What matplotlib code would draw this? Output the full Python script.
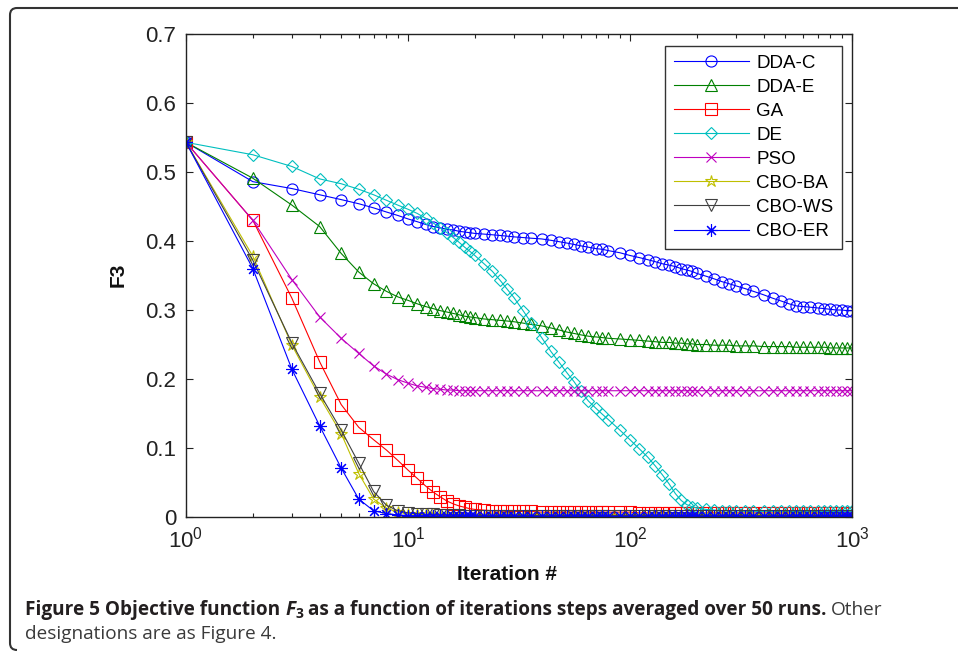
import matplotlib
matplotlib.use("Agg")
import matplotlib.pyplot as plt
from matplotlib.path import Path
from matplotlib.patches import PathPatch
from matplotlib.transforms import IdentityTransform

plt.rcParams["font.family"] = ["Liberation Sans", "DejaVu Sans"]
plt.rcParams["mathtext.fontset"] = "custom"
plt.rcParams["mathtext.rm"] = "Liberation Sans"

iters = [1, 2, 3, 4, 5, 6, 7, 8, 9, 10,
         11, 12, 13, 14, 15, 16, 17, 18, 19, 20,
         22, 24, 26, 28, 30, 33, 36, 40, 44, 48,
         52, 56, 60, 65, 70, 75, 80, 90, 100, 110,
         120, 130, 140, 150, 160, 170, 180, 190, 200, 220,
         240, 260, 280, 300, 330, 360, 400, 440, 480, 520,
         560, 600, 650, 700, 750, 800, 850, 900, 950, 1000]

dda_c = [0.543, 0.486, 0.476, 0.467, 0.460, 0.454, 0.448, 0.442, 0.437, 0.432,
         0.428, 0.424, 0.421, 0.419, 0.417, 0.416, 0.414, 0.413, 0.412, 0.411,
         0.410, 0.409, 0.408, 0.407, 0.406, 0.405, 0.404, 0.403, 0.401, 0.399,
         0.397, 0.395, 0.393, 0.391, 0.389, 0.388, 0.386, 0.383, 0.379, 0.376,
         0.373, 0.370, 0.367, 0.365, 0.363, 0.360, 0.358, 0.356, 0.353, 0.349,
         0.345, 0.341, 0.338, 0.335, 0.331, 0.327, 0.322, 0.317, 0.313, 0.309,
         0.306, 0.305, 0.304, 0.303, 0.302, 0.301, 0.300, 0.300, 0.299, 0.299]

dda_e = [0.543, 0.491, 0.452, 0.421, 0.382, 0.355, 0.338, 0.327, 0.319, 0.314,
         0.309, 0.305, 0.302, 0.299, 0.297, 0.295, 0.293, 0.291, 0.290, 0.289,
         0.287, 0.286, 0.285, 0.284, 0.283, 0.281, 0.279, 0.277, 0.274, 0.271,
         0.268, 0.266, 0.264, 0.262, 0.261, 0.260, 0.259, 0.258, 0.257, 0.256,
         0.255, 0.254, 0.253, 0.253, 0.252, 0.252, 0.251, 0.251, 0.250, 0.250,
         0.249, 0.249, 0.249, 0.248, 0.248, 0.248, 0.247, 0.247, 0.247, 0.247,
         0.246, 0.246, 0.246, 0.246, 0.246, 0.245, 0.245, 0.245, 0.245, 0.245]

ga = [0.543, 0.430, 0.317, 0.225, 0.163, 0.130, 0.112, 0.097, 0.082, 0.068,
      0.056, 0.045, 0.036, 0.029, 0.023, 0.019, 0.016, 0.014, 0.012, 0.011,
      0.010, 0.009, 0.009, 0.008, 0.008, 0.008, 0.008, 0.007, 0.007, 0.007,
      0.007, 0.007, 0.007, 0.007, 0.007, 0.007, 0.007, 0.007, 0.007, 0.006,
      0.006, 0.006, 0.006, 0.006, 0.006, 0.006, 0.006, 0.006, 0.006, 0.006,
      0.006, 0.006, 0.006, 0.006, 0.006, 0.006, 0.006, 0.006, 0.006, 0.006,
      0.006, 0.006, 0.006, 0.006, 0.006, 0.006, 0.006, 0.006, 0.006, 0.006]

de = [0.543, 0.525, 0.508, 0.490, 0.483, 0.475, 0.467, 0.459, 0.452, 0.446,
      0.440, 0.433, 0.426, 0.419, 0.412, 0.405, 0.398, 0.391, 0.385, 0.379,
      0.367, 0.356, 0.343, 0.330, 0.318, 0.299, 0.281, 0.260, 0.240, 0.224,
      0.209, 0.196, 0.182, 0.168, 0.158, 0.149, 0.141, 0.126, 0.112, 0.099,
      0.087, 0.074, 0.061, 0.048, 0.034, 0.024, 0.018, 0.015, 0.013, 0.011,
      0.010, 0.009, 0.009, 0.009, 0.008, 0.008, 0.008, 0.008, 0.008, 0.008,
      0.008, 0.008, 0.008, 0.008, 0.008, 0.008, 0.008, 0.008, 0.008, 0.008]

pso = [0.543, 0.430, 0.344, 0.290, 0.259, 0.237, 0.219, 0.207, 0.199, 0.194,
       0.190, 0.188, 0.186, 0.185, 0.184, 0.184, 0.183, 0.183, 0.183, 0.183,
       0.183, 0.183, 0.183, 0.183, 0.183, 0.183, 0.183, 0.183, 0.183, 0.183,
       0.183, 0.183, 0.183, 0.183, 0.183, 0.183, 0.183, 0.183, 0.183, 0.183,
       0.183, 0.183, 0.183, 0.183, 0.183, 0.183, 0.183, 0.183, 0.183, 0.183,
       0.183, 0.183, 0.183, 0.183, 0.183, 0.183, 0.183, 0.183, 0.183, 0.183,
       0.183, 0.183, 0.183, 0.183, 0.183, 0.183, 0.183, 0.183, 0.183, 0.183]

cbo_ba = [0.543, 0.378, 0.249, 0.174, 0.121, 0.063, 0.026, 0.013, 0.007, 0.005,
          0.004, 0.004, 0.003, 0.003, 0.003, 0.003, 0.002, 0.002, 0.002, 0.002,
          0.002, 0.002, 0.002, 0.002, 0.002, 0.002, 0.002, 0.002, 0.002, 0.002,
          0.002, 0.002, 0.002, 0.002, 0.002, 0.002, 0.002, 0.002, 0.002, 0.002,
          0.002, 0.002, 0.002, 0.002, 0.002, 0.002, 0.002, 0.002, 0.002, 0.002,
          0.002, 0.002, 0.002, 0.002, 0.002, 0.002, 0.002, 0.002, 0.002, 0.002,
          0.002, 0.002, 0.002, 0.002, 0.002, 0.002, 0.002, 0.002, 0.002, 0.002]

cbo_ws = [0.543, 0.372, 0.252, 0.179, 0.126, 0.078, 0.037, 0.017, 0.009, 0.006,
          0.005, 0.004, 0.004, 0.003, 0.003, 0.003, 0.003, 0.002, 0.002, 0.002,
          0.002, 0.002, 0.002, 0.002, 0.002, 0.002, 0.002, 0.002, 0.002, 0.002,
          0.002, 0.002, 0.002, 0.002, 0.002, 0.002, 0.002, 0.002, 0.002, 0.002,
          0.002, 0.002, 0.002, 0.002, 0.002, 0.002, 0.002, 0.002, 0.002, 0.002,
          0.002, 0.002, 0.002, 0.002, 0.002, 0.002, 0.002, 0.002, 0.002, 0.002,
          0.002, 0.002, 0.002, 0.002, 0.002, 0.002, 0.002, 0.002, 0.002, 0.002]

cbo_er = [0.543, 0.360, 0.214, 0.132, 0.071, 0.026, 0.009, 0.005, 0.003, 0.002,
          0.002, 0.002, 0.001, 0.001, 0.001, 0.001, 0.001, 0.001, 0.001, 0.001,
          0.001, 0.001, 0.001, 0.001, 0.001, 0.001, 0.001, 0.001, 0.001, 0.001,
          0.001, 0.001, 0.001, 0.001, 0.001, 0.001, 0.001, 0.001, 0.001, 0.001,
          0.001, 0.001, 0.001, 0.001, 0.001, 0.001, 0.001, 0.001, 0.001, 0.001,
          0.001, 0.001, 0.001, 0.001, 0.001, 0.001, 0.001, 0.001, 0.001, 0.001,
          0.001, 0.001, 0.001, 0.001, 0.001, 0.001, 0.001, 0.001, 0.001, 0.001]

labels = ["DDA-C", "DDA-E", "GA", "DE", "PSO", "CBO-BA", "CBO-WS", "CBO-ER"]
series = [dda_c, dda_e, ga, de, pso, cbo_ba, cbo_ws, cbo_er]

# matlab-ish line specs
styles = [
    dict(color=(0, 0, 1), marker="o", ms=8),
    dict(color=(0, 0.5, 0), marker="^", ms=8),
    dict(color=(1, 0, 0), marker="s", ms=8),
    dict(color=(0, 0.75, 0.75), marker="D", ms=6.5),
    dict(color=(0.75, 0, 0.75), marker="x", ms=7),
    dict(color=(0.75, 0.75, 0), marker="*", ms=9),
    dict(color=(0.25, 0.25, 0.25), marker="v", ms=8),
    dict(color=(0, 0, 1), marker=(8, 2, 0), ms=9),
]

W, H = 958, 653
fig = plt.figure(figsize=(W / 100, H / 100), dpi=100)
ax = fig.add_axes([186 / W, 1 - 517 / H, (852 - 186) / W, (517 - 34) / H])

for vals, lab, st in zip(series, labels, styles):
    ax.plot(iters, vals, label=lab, color=st["color"], lw=0.8,
            marker=st["marker"], ms=st["ms"], mfc="none", mec=st["color"], mew=0.8)

ax.set_xscale("log")
ax.set_xlim(1, 1000)
ax.set_ylim(0, 0.7)
ax.set_yticks([0, 0.1, 0.2, 0.3, 0.4, 0.5, 0.6, 0.7])
ax.set_yticklabels(["0", "0.1", "0.2", "0.3", "0.4", "0.5", "0.6", "0.7"])
ax.tick_params(which="both", direction="in", top=True, right=True,
               labelsize=16, colors="#222222")
ax.tick_params(which="major", length=5, width=0.8)
ax.tick_params(which="minor", length=3, width=0.8)
ax.tick_params(axis="y", pad=7)
ax.tick_params(axis="x", pad=7)
for sp in ax.spines.values():
    sp.set_linewidth(1.0)
    sp.set_color("#222222")

leg = ax.legend(loc="upper right", bbox_to_anchor=(0.985, 0.975), borderaxespad=0,
                fontsize=13.5, handlelength=4.0, handletextpad=0.4,
                labelspacing=0.37, borderpad=0.45, fancybox=False,
                framealpha=1, edgecolor="#333333")
leg.get_frame().set_linewidth(1.0)

fig.text(118 / W, 1 - 275 / H, "F3", rotation=90, ha="center", va="center",
         fontsize=15, fontweight="bold", color="#111111")
fig.text(507 / W, 1 - 575 / H, "Iteration #", ha="center", va="center",
         fontsize=15, fontweight="bold", color="#111111")

# rounded frame around figure (top + left side)
frame = Path([(W, 645), (17, 645), (10, 645), (10, 638), (10, 10), (10, 3), (17, 3)],
             [Path.MOVETO, Path.LINETO, Path.CURVE3, Path.CURVE3, Path.LINETO,
              Path.CURVE3, Path.CURVE3])
fig.add_artist(PathPatch(frame, transform=IdentityTransform(), fill=False,
                         lw=1.5, edgecolor="#333333"))

# caption, drawn as runs of differently styled text
renderer = fig.canvas.get_renderer()
cap = dict(family=["Open Sans", "DejaVu Sans"], fontsize=13.7)
bold = dict(cap, fontweight="bold", color="#231f20")
reg = dict(cap, color="#3a3a3a")


def width_of(txt, kw):
    t = fig.text(0, 0, txt, transform=IdentityTransform(), **kw)
    w = t.get_window_extent(renderer).width
    t.remove()
    return w


gap = width_of("a a", bold) - width_of("aa", bold)
runs = [
    ("Figure 5 Objective function", bold, 0, gap),
    ("F", dict(bold, style="italic"), 0, 0),
    ("3", dict(bold, fontsize=10), -3, gap),
    ("as a function of iterations steps averaged over 50 runs.", bold, 0, gap),
    ("Other", reg, 0, 0),
]
x = 25
for txt, kw, dy, after in runs:
    t = fig.text(x, 38 + dy, txt, transform=IdentityTransform(), ha="left",
                 va="baseline", **kw)
    x += t.get_window_extent(renderer).width + after
fig.text(25, 14, "designations are as Figure 4.", transform=IdentityTransform(),
         ha="left", va="baseline", **reg)

fig.savefig("out.png", dpi=100)
